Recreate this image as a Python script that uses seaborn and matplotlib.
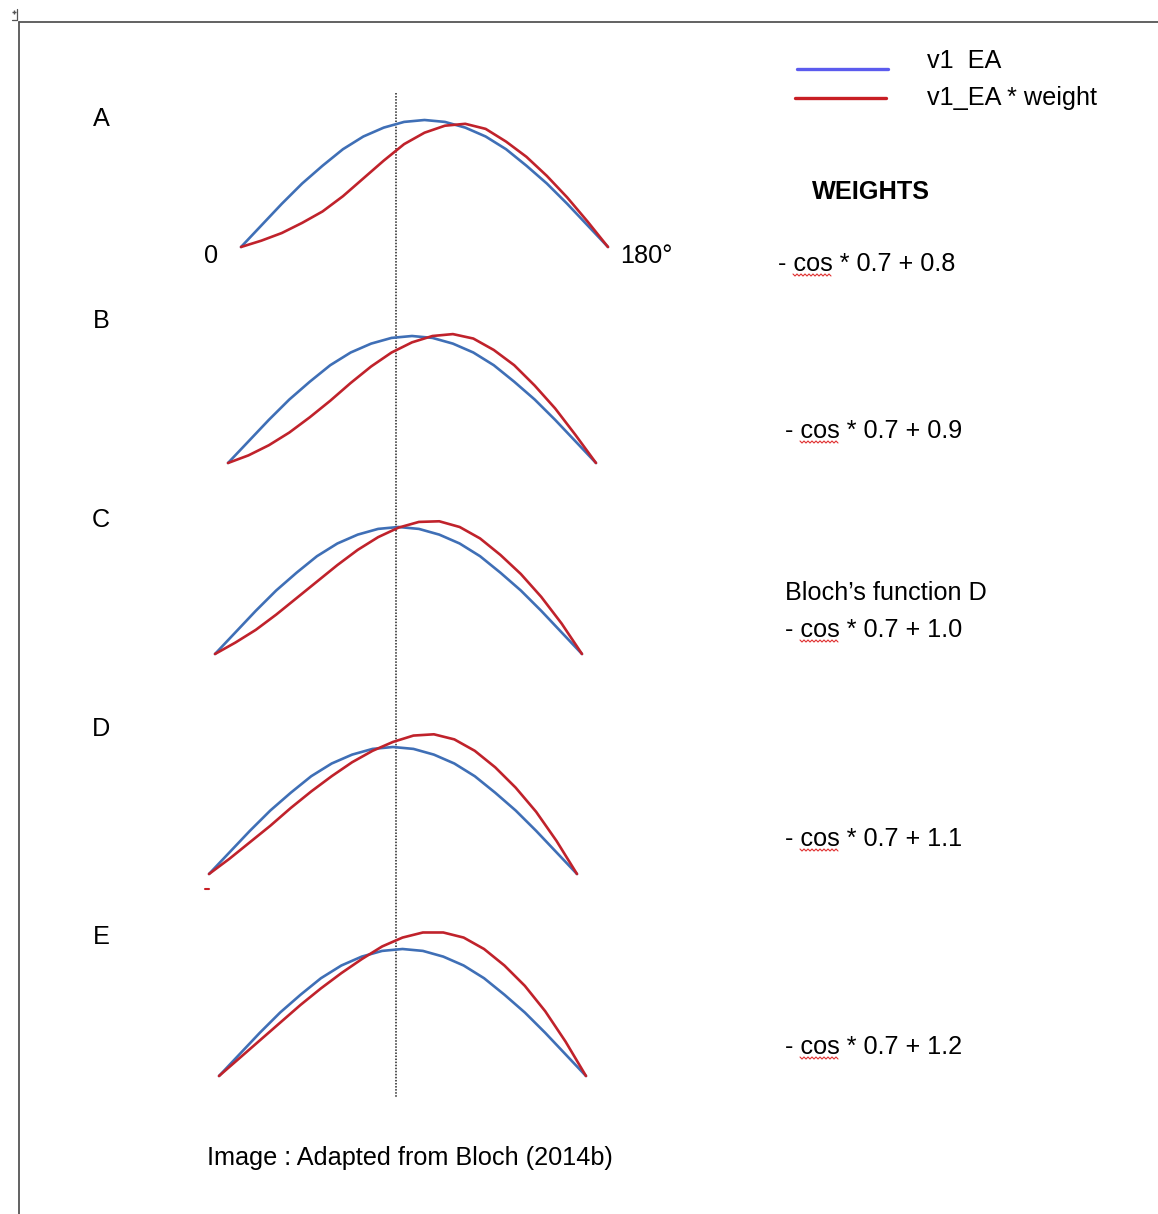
import numpy as np
import pandas as pd
import matplotlib
matplotlib.use("Agg")
import matplotlib.pyplot as plt
import seaborn as sns

# angle of the stimulus (deg) and response values
angles = [0, 10, 20, 30, 40, 50, 60, 70, 80, 90, 100, 110, 120, 130, 140, 150, 160, 170, 180]
v1_ea = [0, 0.17, 0.34, 0.50, 0.64, 0.77, 0.87, 0.94, 0.985, 1.00,
         0.985, 0.94, 0.87, 0.77, 0.64, 0.50, 0.34, 0.17, 0]

weighted_a = [0, 0.05, 0.11, 0.19, 0.28, 0.40, 0.54, 0.68, 0.81, 0.90,
              0.955, 0.97, 0.93, 0.83, 0.71, 0.56, 0.39, 0.20, 0]
weighted_b = [0, 0.06, 0.14, 0.24, 0.36, 0.49, 0.63, 0.76, 0.87, 0.95,
              1.00, 1.015, 0.98, 0.89, 0.77, 0.61, 0.43, 0.22, 0]
weighted_c = [0, 0.09, 0.19, 0.31, 0.44, 0.57, 0.70, 0.82, 0.92, 0.995,
              1.04, 1.045, 1.00, 0.91, 0.78, 0.63, 0.45, 0.24, 0]
weighted_d = [0, 0.12, 0.25, 0.38, 0.52, 0.65, 0.77, 0.88, 0.97, 1.04,
              1.09, 1.10, 1.06, 0.97, 0.84, 0.68, 0.49, 0.26, 0]
weighted_e = [0, 0.14, 0.28, 0.42, 0.56, 0.69, 0.81, 0.92, 1.02, 1.09,
              1.13, 1.13, 1.09, 1.00, 0.87, 0.71, 0.51, 0.27, 0]

panel_names = ['A', 'B', 'C', 'D', 'E']
weighted = [weighted_a, weighted_b, weighted_c, weighted_d, weighted_e]
weight_labels = ['- cos * 0.7 + 0.8', '- cos * 0.7 + 0.9', '- cos * 0.7 + 1.0',
                 '- cos * 0.7 + 1.1', '- cos * 0.7 + 1.2']
series_names = ['v1  EA', 'v1_EA * weight']

# layout in pixels: (left, right, baseline) of each panel, label y, weight text (x, y)
W, H = 1158, 1214
panel_boxes = [(241, 608, 247), (228, 596, 463), (215, 582, 654), (209, 577, 874), (219, 586, 1076)]
label_y = [119, 321, 520, 729, 937]
weight_pos = [(778, 264), (785, 431), (785, 630), (785, 839), (785, 1047)]
unit_px = 127

blue = '#3F6FB6'
red = '#C0222B'

sns.set_theme(style="white")
plt.rcParams['font.family'] = ['Liberation Sans', 'DejaVu Sans']
plt.rcParams['text.color'] = 'black'

fig = plt.figure(figsize=(W / 100, H / 100), dpi=100, facecolor='white')

# overlay in pixel coords for frame, texts and legend
over = fig.add_axes([0, 0, 1, 1])
over.set_xlim(0, W)
over.set_ylim(H, 0)
over.axis('off')

# page frame
over.plot([19, W], [22, 22], color='#555555', lw=1.3)
over.plot([19, 19], [22, H], color='#555555', lw=1.3)
over.plot([17, 17, 12], [9, 20, 20], color='#555555', lw=0.9)
over.plot([14], [12], marker='+', color='#555555', ms=3)

# reference line through all panels
over.plot([396, 396], [93, 1098], color='#222222', lw=1.1, ls=(0, (1, 1)))

fs = 18.2
for name, ly in zip(panel_names, label_y):
    over.text(101, ly, name, fontsize=fs, ha='center', va='center')

over.text(211, 256, '0', fontsize=fs, ha='center', va='center')
over.text(620, 256, '180°', fontsize=fs, ha='left', va='center')

# legend
over.plot([797, 888], [69, 69], color='#5B5BEE', lw=2.4)
over.plot([795, 886], [98, 98], color='#C81E24', lw=2.4)
over.text(927, 61, series_names[0], fontsize=fs, ha='left', va='center')
over.text(927, 98, series_names[1], fontsize=fs, ha='left', va='center')

over.text(812, 192, 'WEIGHTS', fontsize=fs, fontweight='bold', ha='left', va='center')
over.text(785, 593, 'Bloch’s function D', fontsize=fs, ha='left', va='center')

for lab, (tx, ty) in zip(weight_labels, weight_pos):
    over.text(tx, ty, lab, fontsize=fs, ha='left', va='center')
    # spell-check squiggle under "cos"
    sx = np.arange(tx + 15, tx + 55, 2.0)
    sy = ty + 11 + np.where(np.arange(len(sx)) % 2 == 0, -1.0, 1.0)
    over.plot(sx, sy, color='#E03030', lw=0.8)

over.plot([205, 209], [889, 889], color='#C81E24', lw=1.5)

over.text(207, 1158, 'Image : Adapted from Bloch (2014b)', fontsize=fs, ha='left', va='center')

# curve panels
ymax = 1.3
for (x0, x1, base), red_vals in zip(panel_boxes, weighted):
    ax = fig.add_axes([x0 / W, (H - base) / H, (x1 - x0) / W, ymax * unit_px / H])
    df = pd.DataFrame({
        'angle': angles * 2,
        'value': v1_ea + red_vals,
        'series': [series_names[0]] * len(angles) + [series_names[1]] * len(angles),
    })
    sns.lineplot(data=df, x='angle', y='value', hue='series',
                 palette=[blue, red], linewidth=1.9, legend=False, ax=ax)
    for ln in ax.lines:
        ln.set_clip_on(False)
    ax.set_xlim(0, 180)
    ax.set_ylim(0, ymax)
    ax.axis('off')

fig.savefig('out.png', dpi=100, facecolor='white')
